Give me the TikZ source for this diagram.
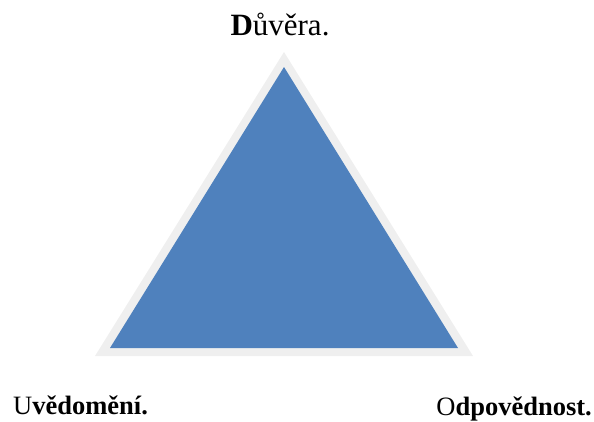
\documentclass[tikz,border=0pt]{standalone}
\usepackage{fontspec}
\setmainfont{Liberation Serif}
\definecolor{triblue}{HTML}{4F81BD}
\definecolor{trigray}{HTML}{EFEFEF}
\begin{document}
\begin{tikzpicture}[x=1pt,y=-1pt,
  toplabel/.style={inner sep=0pt, font=\fontsize{31}{36}\selectfont},
  botlabel/.style={inner sep=0pt, font=\fontsize{26.5}{31}\selectfont}]
\useasboundingbox (0,0) rectangle (594,421);
% outer light frame
\fill[trigray] (284,52) -- (473,356) -- (95,356) -- cycle;
% blue triangle
\fill[triblue] (284,67) -- (458,348) -- (110,348) -- cycle;
\node[toplabel, anchor=base] (top) at (280,35) {\textbf{D}ůvěra.};
\node[botlabel, anchor=base west] (left) at (13,414) {U\textbf{vědomění.}};
\node[botlabel, anchor=base east] (right) at (592,415) {O\textbf{dpovědnost.}};
\end{tikzpicture}
\end{document}
